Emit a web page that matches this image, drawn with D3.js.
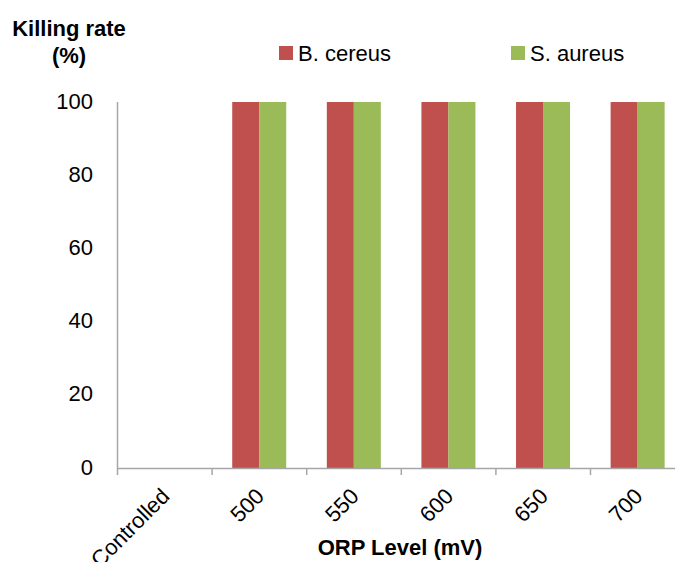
<!DOCTYPE html>
<html>
<head>
<meta charset="utf-8">
<script src="https://cdn.jsdelivr.net/npm/d3@7"></script>
<style>
  html, body { margin: 0; padding: 0; background: #fff; }
  svg { display: block; font-family: "Liberation Sans", Arial, sans-serif; }
</style>
</head>
<body>
<svg id="chart" width="675" height="562"></svg>
<script>
// ORP levels on the category axis
const categories = ["Controlled", "500", "550", "600", "650", "700"];
// Killing rate (%) for each organism
const seriesNames = ["B. cereus", "S. aureus"];
const bCereus = [0, 100, 100, 100, 100, 100];
const sAureus = [0, 100, 100, 100, 100, 100];
const seriesColors = ["#C0504D", "#9BBB59"];
const yTicks = [0, 20, 40, 60, 80, 100];

const svg = d3.select("#chart");
const axisColor = "#a6a6a6";

const plot = { left: 117, top: 102, bottom: 468, step: 94.6 };

const x0 = d3.scaleBand()
  .domain(categories)
  .range([plot.left, plot.left + plot.step * categories.length])
  .padding(0);

const x1 = d3.scaleBand()
  .domain(seriesNames)
  .range([x0.bandwidth() * 0.218, x0.bandwidth() * 0.789])
  .padding(0);

const y = d3.scaleLinear().domain([0, 100]).range([plot.bottom, plot.top]);

const series = [bCereus, sAureus];

// bars
const groups = svg.append("g").selectAll("g")
  .data(categories)
  .join("g")
  .attr("transform", d => `translate(${x0(d)},0)`);

groups.selectAll("rect")
  .data((c, i) => seriesNames.map((s, j) => ({ s, v: series[j][i], color: seriesColors[j] })))
  .join("rect")
  .attr("x", d => x1(d.s))
  .attr("width", x1.bandwidth())
  .attr("y", d => y(d.v))
  .attr("height", d => y(0) - y(d.v))
  .attr("fill", d => d.color);

// y axis: plain line with labels, no tick marks
svg.append("line")
  .attr("x1", plot.left + 0.5).attr("x2", plot.left + 0.5)
  .attr("y1", y(100)).attr("y2", y(0))
  .attr("stroke", axisColor).attr("stroke-width", 1.5);

svg.append("g").selectAll("text")
  .data(yTicks)
  .join("text")
  .attr("x", 93)
  .attr("y", d => y(d))
  .attr("dy", "0.3em")
  .attr("text-anchor", "end")
  .attr("font-size", 22)
  .attr("fill", "#000")
  .text(d => d);

// x axis with ticks between categories
const xAxis = d3.axisBottom(x0).tickSize(0).tickFormat("");
const gx = svg.append("g").attr("transform", `translate(0,${plot.bottom})`).call(xAxis);
gx.select(".domain").attr("stroke", axisColor).attr("stroke-width", 1.5);

const boundaries = categories.map(c => x0(c));
svg.append("g").selectAll("line")
  .data(boundaries)
  .join("line")
  .attr("x1", d => d + 0.5).attr("x2", d => d + 0.5)
  .attr("y1", plot.bottom).attr("y2", plot.bottom + 7)
  .attr("stroke", axisColor).attr("stroke-width", 1.5);

// rotated category labels
svg.append("g").selectAll("text")
  .data(categories)
  .join("text")
  .attr("transform", d => `translate(${x0(d) + x0.bandwidth() / 2 + 1},${plot.bottom + 24}) rotate(-45)`)
  .attr("text-anchor", "end")
  .attr("dy", "0.36em")
  .attr("font-size", 22)
  .attr("fill", "#000")
  .text(d => d);

// axis titles
svg.append("text")
  .attr("x", 400).attr("y", 555)
  .attr("text-anchor", "middle")
  .attr("font-size", 22).attr("font-weight", "bold")
  .text("ORP Level (mV)");

const yTitle = svg.append("text")
  .attr("text-anchor", "middle")
  .attr("font-size", 22).attr("font-weight", "bold");
yTitle.append("tspan").attr("x", 69).attr("y", 36).text("Killing rate");
yTitle.append("tspan").attr("x", 69).attr("y", 63).text("(%)");

// legend
const legendPos = [{ sx: 279, tx: 298 }, { sx: 511, tx: 530 }];
const legend = svg.append("g").selectAll("g")
  .data(seriesNames)
  .join("g");
legend.append("rect")
  .attr("x", (d, i) => legendPos[i].sx)
  .attr("y", 46)
  .attr("width", 14).attr("height", 14)
  .attr("fill", (d, i) => seriesColors[i]);
legend.append("text")
  .attr("x", (d, i) => legendPos[i].tx)
  .attr("y", 61)
  .attr("font-size", 22)
  .attr("fill", "#000")
  .text(d => d);
</script>
</body>
</html>
